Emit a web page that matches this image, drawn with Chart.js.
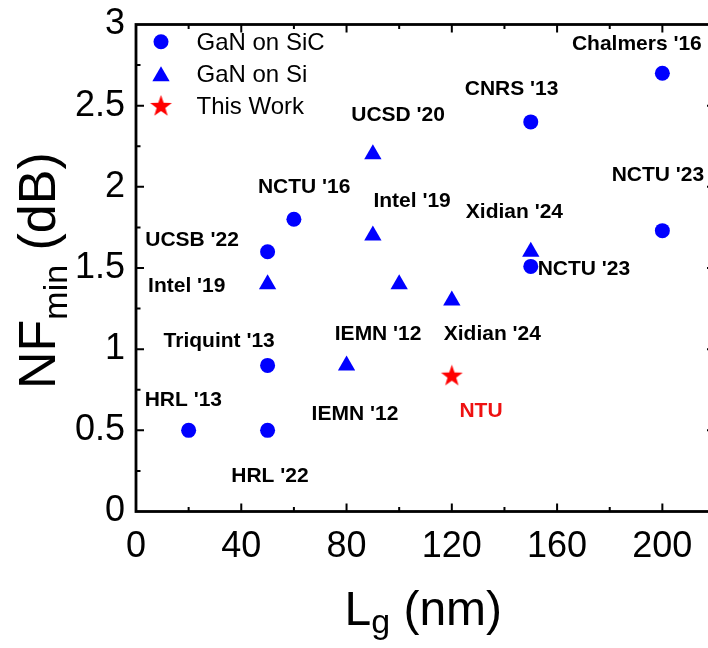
<!DOCTYPE html>
<html><head><meta charset="utf-8">
<script src="https://cdn.jsdelivr.net/npm/chart.js@4"></script>
<style>
html,body{margin:0;padding:0;background:#fff;overflow:hidden;width:708px;height:648px}
#wrap{position:relative;width:708px;height:648px;overflow:hidden;background:#fff}
canvas{display:block}
</style></head>
<body><div id="wrap"><canvas id="c" width="726" height="648" style="width:726px;height:648px"></canvas></div>
<script>
// ---- data ----
const sicX = [20, 50, 50, 50, 60, 150, 150, 200, 200];
const sicY = [0.5, 0.5, 0.9, 1.6, 1.8, 2.4, 1.51, 2.7, 1.73];
const siX = [50, 80, 90, 90, 100, 120, 150];
const siY = [1.4, 0.9, 2.2, 1.7, 1.4, 1.3, 1.6];
const workX = [120];
const workY = [0.84];
const seriesNames = ['GaN on SiC', 'GaN on Si', 'This Work'];
const xTicks = [0, 40, 80, 120, 160, 200];
const yTicks = [0, 0.5, 1, 1.5, 2, 2.5, 3];
const noteText = ["Chalmers '16", "CNRS '13", "UCSD '20", "NCTU '23", "Intel '19", "Xidian '24", "NCTU '23",
  "NCTU '16", "UCSB '22", "Intel '19", "Triquint '13", "HRL '13", "HRL '22", "IEMN '12", "IEMN '12", "Xidian '24", "NTU"];
const noteX = [190.3, 142.7, 99.6, 198.3, 104.9, 143.8, 170.2, 63.9, 21.3, 19.3, 31.6, 18.0, 50.9, 92.0, 83.2, 135.4, 131.1];
const noteY = [2.889, 2.612, 2.453, 2.081, 1.921, 1.855, 1.503, 2.008, 1.683, 1.400, 1.061, 0.694, 0.230, 1.103, 0.612, 1.103, 0.630];

const BLUE = '#0000ff', RED = '#ff0000';
const FONT = "'Liberation Sans', Arial, sans-serif";

function makeStar(r, color) {
  const s = Math.ceil(r * 2 + 2);
  const c = document.createElement('canvas');
  c.width = s; c.height = s;
  const g = c.getContext('2d');
  g.fillStyle = color;
  g.beginPath();
  for (let i = 0; i < 10; i++) {
    const rr = i % 2 ? r * 0.4 : r;
    const a = -Math.PI / 2 + i * Math.PI / 5;
    g.lineTo(s / 2 + rr * Math.cos(a), s / 2 + 1 + rr * Math.sin(a));
  }
  g.closePath(); g.fill();
  return c;
}
const starImg = makeStar(11.4, RED);

const pts = (xs, ys) => xs.map((x, i) => ({x, y: ys[i]}));

const frameTicks = {
  id: 'frameTicks',
  afterDatasetsDraw(chart) {
    const ctx = chart.ctx, a = chart.chartArea;
    const xs = chart.scales.x, ys = chart.scales.y;
    ctx.save();
    ctx.strokeStyle = '#000';
    ctx.lineWidth = 2;
    const maj = 8, mnr = 4.5;
    const xStep = xTicks[1] - xTicks[0], yStep = yTicks[1] - yTicks[0];
    ctx.beginPath();
    const xt = [];
    xTicks.forEach(v => { xt.push([v, maj]); xt.push([v + xStep / 2, mnr]); });
    xt.forEach(([v, l]) => {
      if (v <= xs.min || v >= xs.max) return;
      const p = xs.getPixelForValue(v);
      ctx.moveTo(p, a.bottom); ctx.lineTo(p, a.bottom - l);
      ctx.moveTo(p, a.top); ctx.lineTo(p, a.top + l);
    });
    const yt = [];
    yTicks.forEach(v => { yt.push([v, maj]); yt.push([v + yStep / 2, mnr]); });
    yt.forEach(([v, l]) => {
      if (v <= ys.min || v >= ys.max) return;
      const p = ys.getPixelForValue(v);
      ctx.moveTo(a.left, p); ctx.lineTo(a.left + l, p);
      ctx.moveTo(a.right, p); ctx.lineTo(a.right - l, p);
    });
    ctx.stroke();
    ctx.lineWidth = 2.8;
    ctx.strokeRect(a.left, a.top, a.right - a.left, a.bottom - a.top);

    ctx.textAlign = 'center';
    ctx.textBaseline = 'alphabetic';
    ctx.font = "bold 21px " + FONT;
    noteText.forEach((t, i) => {
      ctx.fillStyle = t === 'NTU' ? '#ee1111' : '#000';
      ctx.fillText(t, xs.getPixelForValue(noteX[i]), ys.getPixelForValue(noteY[i]) + 0.358 * 21);
    });

    const rows = [41.7, 73.8, 105.5];
    const mx = 161, tx = 196.5;
    chart.data.datasets.forEach((ds, i) => {
      const y = rows[i];
      ctx.fillStyle = ds.backgroundColor;
      if (ds.pointStyle === 'circle') {
        ctx.beginPath(); ctx.arc(mx, y, ds.pointRadius, 0, Math.PI * 2); ctx.fill();
      } else if (ds.pointStyle === 'triangle') {
        const r = ds.pointRadius, cy = y + 2.5;
        ctx.beginPath();
        for (let k = 0; k < 3; k++) {
          const ang = k * 2 * Math.PI / 3;
          ctx.lineTo(mx + Math.sin(ang) * r, cy - Math.cos(ang) * r);
        }
        ctx.closePath(); ctx.fill();
      } else {
        ctx.drawImage(ds.pointStyle, mx - ds.pointStyle.width / 2, y - ds.pointStyle.height / 2);
      }
      ctx.fillStyle = '#000';
      ctx.textAlign = 'left';
      ctx.font = "24px " + FONT;
      ctx.fillText(ds.label, tx, y + 0.358 * 24);
    });

    ctx.fillStyle = '#000';
    ctx.textAlign = 'left';
    let x0 = 344.5, base = 625;
    ctx.font = "48px " + FONT;
    ctx.fillText('L', x0, base);
    x0 += ctx.measureText('L').width;
    ctx.font = "34px " + FONT;
    ctx.fillText('g', x0, base + 8);
    x0 += ctx.measureText('g').width;
    ctx.font = "48px " + FONT;
    ctx.fillText(' (nm)', x0, base);
    ctx.save();
    ctx.translate(55, 389);
    ctx.rotate(-Math.PI / 2);
    let y0 = 0;
    ctx.font = "52px " + FONT;
    ctx.fillText('NF', y0, 0);
    y0 += ctx.measureText('NF').width;
    ctx.font = "34px " + FONT;
    ctx.fillText('min', y0, 12);
    y0 += ctx.measureText('min').width;
    ctx.font = "52px " + FONT;
    ctx.fillText(' (dB)', y0, 0);
    ctx.restore();
    ctx.restore();
  }
};

function zeroPad(s) { s.paddingTop = 0; s.paddingBottom = 0; s.paddingLeft = 0; s.paddingRight = 0; }

new Chart(document.getElementById('c'), {
  type: 'scatter',
  data: {
    datasets: [
      {label: seriesNames[0], data: pts(sicX, sicY), pointStyle: 'circle', pointRadius: 7.5, pointHoverRadius: 7.5,
       backgroundColor: BLUE, borderColor: BLUE, pointBorderWidth: 0},
      {label: seriesNames[1], data: pts(siX, siY), pointStyle: 'triangle', pointRadius: 10, pointHoverRadius: 10,
       backgroundColor: BLUE, borderColor: BLUE, pointBorderWidth: 0},
      {label: seriesNames[2], data: pts(workX, workY), pointStyle: starImg, pointRadius: 11,
       backgroundColor: RED, borderColor: RED, pointBorderWidth: 0}
    ]
  },
  options: {
    responsive: false,
    animation: false,
    events: [],
    layout: {padding: {left: 0, right: 4.6, top: 24.5, bottom: 0}},
    plugins: {legend: {display: false}, tooltip: {enabled: false}, title: {display: false}},
    scales: {
      x: {
        type: 'linear', min: 0, max: 220,
        grid: {display: false, drawTicks: false},
        border: {display: false},
        afterBuildTicks: s => { s.ticks = xTicks.map(v => ({value: v})); },
        afterFit: s => { s.height = 648 - 511.5; zeroPad(s); },
        ticks: {padding: 14, color: '#000', font: {family: FONT, size: 36}, maxRotation: 0, callback: v => String(v)}
      },
      y: {
        type: 'linear', min: 0, max: 3,
        grid: {display: false, drawTicks: false},
        border: {display: false},
        afterBuildTicks: s => { s.ticks = yTicks.map(v => ({value: v})); },
        afterFit: s => { s.width = 136; zeroPad(s); },
        ticks: {padding: 11, color: '#000', font: {family: FONT, size: 36}, callback: v => String(v)}
      }
    }
  },
  plugins: [frameTicks]
});
</script>
</body></html>
